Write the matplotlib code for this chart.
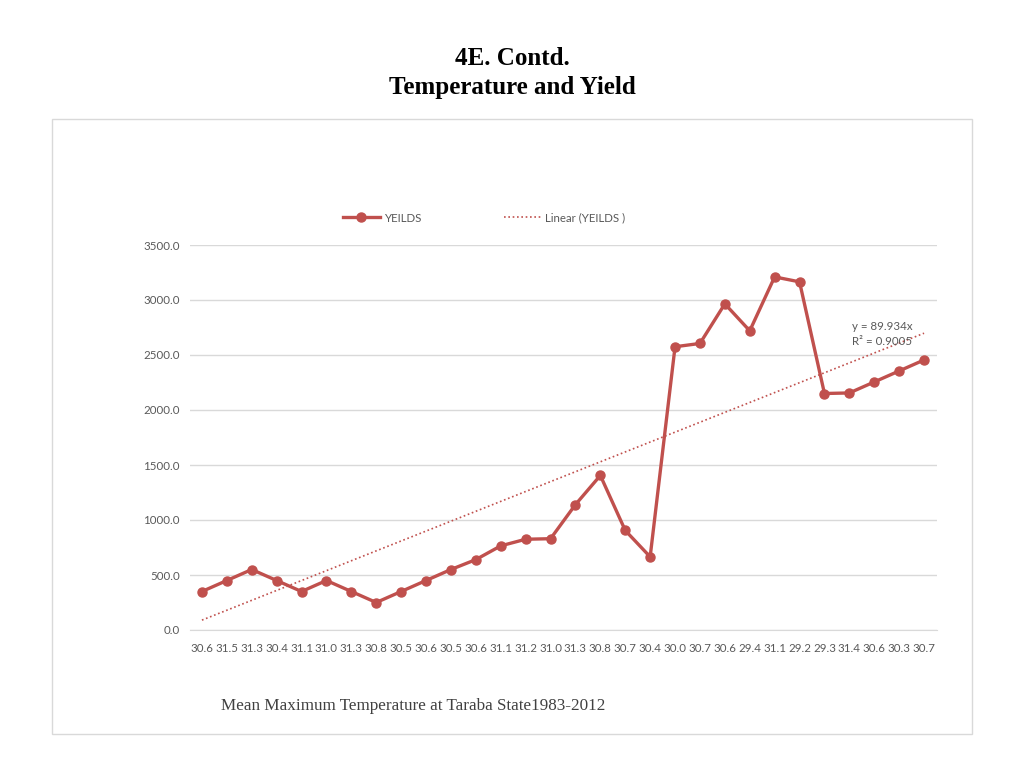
import matplotlib.pyplot as plt
import numpy as np
from matplotlib.patches import Rectangle

# data
temps = ['30.6', '31.5', '31.3', '30.4', '31.1', '31.0', '31.3', '30.8', '30.5', '30.6',
         '30.5', '30.6', '31.1', '31.2', '31.0', '31.3', '30.8', '30.7', '30.4', '30.0',
         '30.7', '30.6', '29.4', '31.1', '29.2', '29.3', '31.4', '30.6', '30.3', '30.7']
yields = [350, 450, 550, 450, 350, 450, 350, 250, 350, 450,
          550, 640, 765, 825, 830, 1140, 1405, 905, 665, 2575,
          2605, 2965, 2720, 3210, 3165, 2150, 2155, 2255, 2355, 2455]
slope = 89.934
r2 = 0.9005

red = '#c0504d'
grey = '#595959'
plt.rcParams['font.family'] = ['Lato', 'DejaVu Sans']

fig = plt.figure(figsize=(10.24, 7.68), dpi=100)

# chart frame
fig.patches.append(Rectangle((52 / 1024, 1 - 734 / 768), 920 / 1024, 615 / 768,
                             transform=fig.transFigure, facecolor='white',
                             edgecolor='#d9d9d9', linewidth=1, zorder=-5))

fig.text(0.5, 1 - 65 / 768, '4E. Contd.', ha='center', va='baseline',
         family='Liberation Serif', fontweight='bold', fontsize=18)
fig.text(0.5, 1 - 94 / 768, 'Temperature and Yield', ha='center', va='baseline',
         family='Liberation Serif', fontweight='bold', fontsize=18)

ax = fig.add_axes([189.5 / 1024, 1 - 630 / 768, 747 / 1024, 385 / 768])
ax.set_facecolor('none')
x = np.arange(1, len(yields) + 1)
ax.plot(x, yields, color=red, lw=2.4, marker='o', ms=6.5, label='YEILDS', zorder=3)
ax.plot(x, slope * x, color=red, lw=1.2, ls=(0, (1, 1.6)), label='Linear (YEILDS )', zorder=2)

ax.set_xlim(0.5, len(yields) + 0.5)
ax.set_ylim(0, 3500)
ax.set_yticks(np.arange(0, 3501, 500))
ax.set_yticklabels([f'{v:.1f}' for v in np.arange(0, 3501, 500)])
ax.set_xticks(x)
ax.set_xticklabels(temps)
ax.grid(axis='y', color='#d9d9d9', lw=1)
ax.set_axisbelow(True)
for s in ['top', 'right', 'left']:
    ax.spines[s].set_visible(False)
ax.spines['bottom'].set_color('#d9d9d9')
ax.tick_params(length=0, labelsize=8.3, labelcolor=grey)
ax.tick_params(axis='x', pad=9)
ax.tick_params(axis='y', pad=7)

ax.text(27.1, 2691, f'y = {slope}x\nR² = {r2}', fontsize=8.3,
        color=grey, va='center', ha='left', linespacing=1.55)

fig.legend(*ax.get_legend_handles_labels(), loc='center left',
           bbox_to_anchor=(343 / 1024, 1 - 218 / 768), borderaxespad=0, borderpad=0,
           ncol=2, frameon=False, fontsize=8.3, labelcolor=grey,
           columnspacing=7.1, handlelength=3.2, handletextpad=0.4)

fig.text(221 / 1024, 1 - 710 / 768, 'Mean Maximum Temperature at Taraba State1983-2012',
         ha='left', va='baseline', family='Liberation Serif', fontsize=12.3, color='#404040')

fig.savefig('out.png', dpi=100)
